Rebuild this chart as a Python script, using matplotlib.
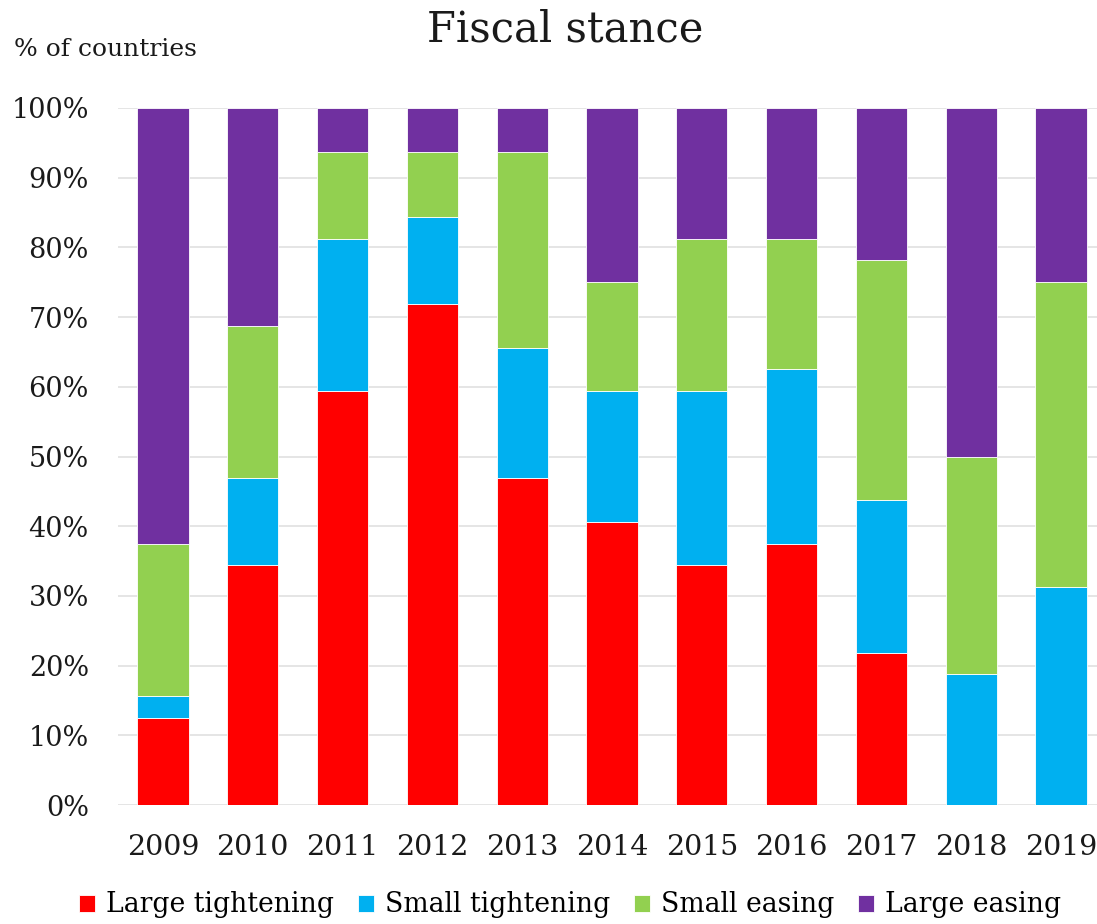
import matplotlib
matplotlib.use("Agg")
import matplotlib.pyplot as plt
import numpy as np

# share of countries by fiscal stance, per year (%)
years = ["2009", "2010", "2011", "2012", "2013", "2014", "2015", "2016", "2017", "2018", "2019"]
large_tightening = [12.5, 34.375, 59.375, 71.875, 46.875, 40.625, 34.375, 37.5, 21.875, 0.0, 0.0]
small_tightening = [3.125, 12.5, 21.875, 12.5, 18.75, 18.75, 25.0, 25.0, 21.875, 18.75, 31.25]
small_easing = [21.875, 21.875, 12.5, 9.375, 28.125, 15.625, 21.875, 18.75, 34.375, 31.25, 43.75]
large_easing = [62.5, 31.25, 6.25, 6.25, 6.25, 25.0, 18.75, 18.75, 21.875, 50.0, 25.0]

series = [
    ("Large tightening", large_tightening, "#FF0000"),
    ("Small tightening", small_tightening, "#00B0F0"),
    ("Small easing", small_easing, "#92D050"),
    ("Large easing", large_easing, "#7030A0"),
]

plt.rcParams["font.family"] = ["DejaVu Serif"]
W, H = 1097, 924
fig = plt.figure(figsize=(W / 100, H / 100), dpi=100)
ax = fig.add_axes([118 / W, 119 / H, 988 / W, 697 / H])

x = np.arange(len(years))
bottom = np.zeros(len(years))
for label, vals, color in series:
    vals = np.array(vals)
    ax.bar(x, vals, width=0.57, bottom=bottom, color=color, label=label,
           edgecolor="white", linewidth=0.6, zorder=3)
    bottom += vals

ax.set_xlim(-0.5, len(years) - 0.5)
ax.set_ylim(0, 100)
ax.set_yticks(np.arange(0, 101, 10))
ax.set_yticklabels([f"{v}%" for v in range(0, 101, 10)])
ax.set_xticks(x)
ax.set_xticklabels(years)
ax.tick_params(axis="both", length=0, colors="#1a1a1a")
ax.tick_params(axis="y", pad=21, labelsize=19.5)
ax.tick_params(axis="x", pad=21, labelsize=20.5)
ax.grid(axis="y", color="#E3E3E3", linewidth=1.3, zorder=0)
for s in ax.spines.values():
    s.set_visible(False)

fig.text(427 / W, 1 - 30 / H, "Fiscal stance", fontsize=30, ha="left", va="center",
         color="#1a1a1a")
fig.text(14 / W, 1 - 50 / H, "% of countries", fontsize=18, ha="left", va="center",
         color="#1a1a1a")

fig.legend(loc="center", bbox_to_anchor=(570 / W, 1 - 905 / H), ncol=4, frameon=False,
           fontsize=19.2, handlelength=0.6, handleheight=0.6, handletextpad=0.4,
           columnspacing=0.9)

fig.savefig("out.png", dpi=100)
